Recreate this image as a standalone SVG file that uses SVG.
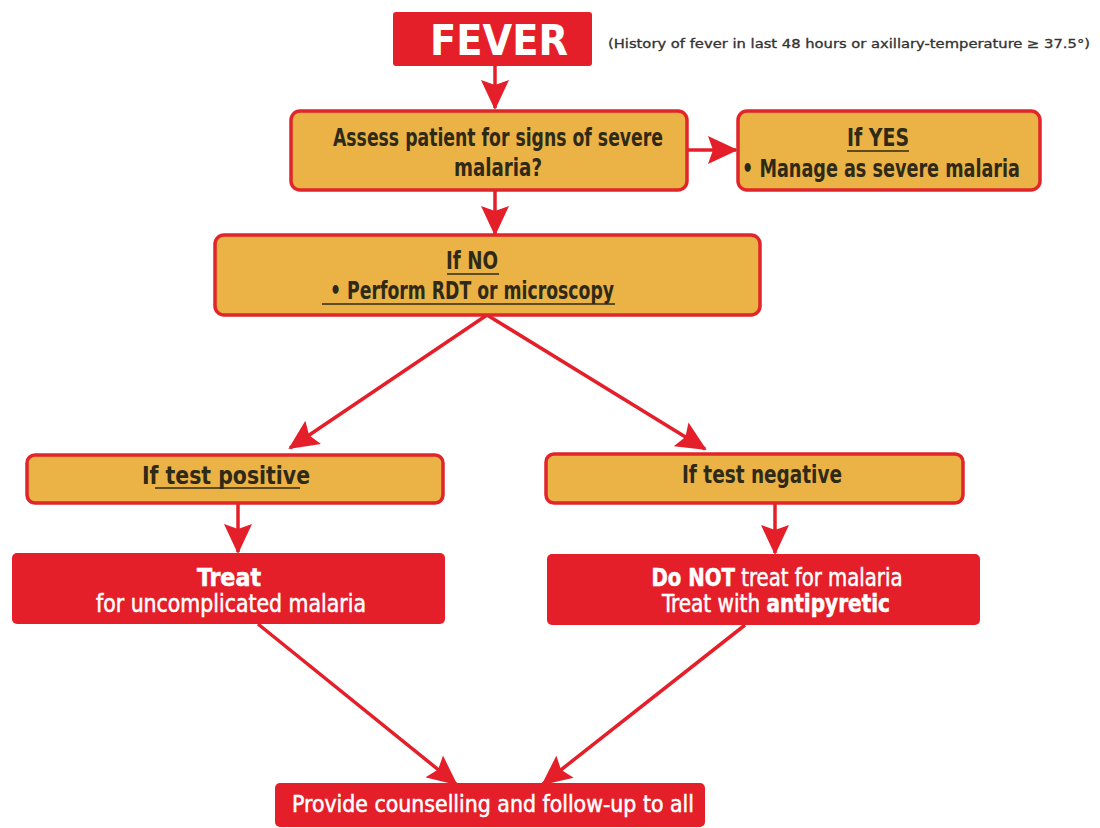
<svg xmlns="http://www.w3.org/2000/svg" width="1100" height="828" viewBox="0 0 1100 828">
<style>
.red{fill:#e41f2a;}
.org{fill:#ebb246;stroke:#e0262a;stroke-width:3.5;}
.tx{font-family:"DejaVu Sans Condensed","Liberation Sans Narrow","Liberation Sans",sans-serif;font-weight:bold;fill:#2e2a17;text-anchor:middle;}
.wt{font-family:"DejaVu Sans Condensed","Liberation Sans Narrow","Liberation Sans",sans-serif;fill:#ffffff;text-anchor:middle;stroke:#ffffff;stroke-width:0.5;}
.ul{stroke:#2e2a17;stroke-width:1.6;}
.conn{stroke:#e41f2a;stroke-width:3.5;fill:none;marker-end:url(#ah);}
</style>
<defs>
<marker id="ah" markerUnits="userSpaceOnUse" viewBox="0 0 30 28" refX="28" refY="14" markerWidth="30" markerHeight="28" orient="auto">
<path d="M0,0 L30,14 L0,28 L5,14 Z" fill="#e41f2a"/>
</marker>
</defs>
<rect width="1100" height="828" fill="#ffffff"/>

<g id="connectors">
<line class="conn" x1="495" y1="65" x2="495" y2="108"/>
<line class="conn" x1="687" y1="150" x2="736" y2="150"/>
<line class="conn" x1="495" y1="190" x2="495" y2="234"/>
<line class="conn" x1="487" y1="315" x2="290" y2="448"/>
<line class="conn" x1="487" y1="315" x2="705" y2="449"/>
<line class="conn" x1="238" y1="503" x2="238" y2="552"/>
<line class="conn" x1="775" y1="503" x2="775" y2="553"/>
<line class="conn" x1="258" y1="624" x2="456" y2="784"/>
<line class="conn" x1="745" y1="625" x2="543" y2="784"/>
</g>

<g id="fever">
<rect class="red" x="393" y="12" width="199" height="54" rx="3"/>
<text x="499" y="55" font-family="DejaVu Sans Condensed,Liberation Sans Narrow,Liberation Sans,sans-serif" font-size="42" font-weight="bold" fill="#ffffff" text-anchor="middle" textLength="138" lengthAdjust="spacingAndGlyphs">FEVER</text>
</g>
<g id="fever-note">
<text x="608" y="48" font-family="DejaVu Sans Condensed,Liberation Sans Narrow,Liberation Sans,sans-serif" font-size="12.5" fill="#333333" stroke="#333333" stroke-width="0.3" textLength="482" lengthAdjust="spacingAndGlyphs">(History of fever in last 48 hours or axillary-temperature ≥ 37.5°)</text>
</g>

<g id="assess">
<rect class="org" x="291" y="111" width="396" height="79" rx="9"/>
<text class="tx" x="498" y="146" font-size="25" textLength="330" lengthAdjust="spacingAndGlyphs">Assess patient for signs of severe</text>
<text class="tx" x="498" y="176" font-size="25" textLength="88" lengthAdjust="spacingAndGlyphs">malaria?</text>
</g>

<g id="ifyes">
<rect class="org" x="738" y="111" width="302" height="79" rx="9"/>
<text class="tx" x="878" y="146" font-size="25" textLength="62" lengthAdjust="spacingAndGlyphs">If YES</text>
<line class="ul" x1="847" y1="151" x2="909" y2="151"/>
<text class="tx" x="881" y="177" font-size="25" textLength="278" lengthAdjust="spacingAndGlyphs">• Manage as severe malaria</text>
</g>

<g id="ifno">
<rect class="org" x="215" y="235" width="545" height="80" rx="9"/>
<text class="tx" x="472" y="269" font-size="25" textLength="52" lengthAdjust="spacingAndGlyphs">If NO</text>
<line class="ul" x1="447" y1="274" x2="499" y2="274"/>
<text class="tx" x="472" y="299" font-size="25" textLength="284" lengthAdjust="spacingAndGlyphs">• Perform RDT or microscopy</text>
<line class="ul" x1="322" y1="304" x2="615" y2="304"/>
</g>

<g id="positive">
<rect class="org" x="27" y="455" width="416" height="48" rx="8"/>
<text class="tx" x="226" y="484" font-size="24" textLength="168" lengthAdjust="spacingAndGlyphs">If  test positive</text>
<line class="ul" x1="155" y1="488" x2="300" y2="488"/>
</g>

<g id="negative">
<rect class="org" x="546" y="454" width="417" height="49" rx="8"/>
<text class="tx" x="762" y="483" font-size="24" textLength="160" lengthAdjust="spacingAndGlyphs">If  test negative</text>
</g>

<g id="treat">
<rect class="red" x="12" y="553" width="433" height="71" rx="5"/>
<text class="wt" x="229" y="586" font-size="24" font-weight="bold" textLength="64" lengthAdjust="spacingAndGlyphs">Treat</text>
<text class="wt" x="231" y="612" font-size="24" textLength="270" lengthAdjust="spacingAndGlyphs">for uncomplicated malaria</text>
</g>

<g id="donot">
<rect class="red" x="547" y="554" width="433" height="71" rx="5"/>
<text class="wt" x="777" y="586" font-size="24" textLength="251" lengthAdjust="spacingAndGlyphs"><tspan font-weight="bold">Do NOT</tspan> treat for malaria</text>
<text class="wt" x="776" y="612" font-size="24" textLength="228" lengthAdjust="spacingAndGlyphs">Treat with <tspan font-weight="bold">antipyretic</tspan></text>
</g>

<g id="counsel">
<rect class="red" x="275" y="783" width="430" height="44" rx="5"/>
<text class="wt" x="493" y="812" font-size="23" textLength="402" lengthAdjust="spacingAndGlyphs">Provide counselling and follow-up to all</text>
</g>
</svg>
